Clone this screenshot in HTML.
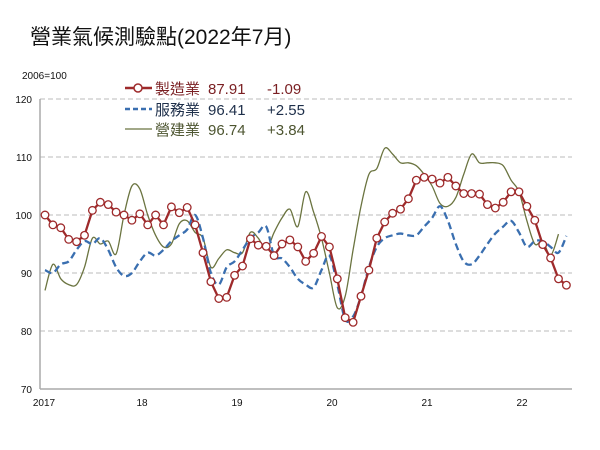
<!DOCTYPE html>
<html><head><meta charset="utf-8"><style>
html,body{margin:0;padding:0;background:#fff;width:600px;height:450px;overflow:hidden}
svg text{font-family:"Liberation Sans","Noto Sans CJK TC",sans-serif}
</style></head><body>
<svg id="s" width="600" height="450" xmlns="http://www.w3.org/2000/svg">
<text x="30" y="44" font-size="21" fill="#111" font-family="Liberation Sans, Noto Sans CJK TC, sans-serif">營業氣候測驗點(2022年7月)</text>
<text x="22" y="79" font-size="10" fill="#111">2006=100</text>
<g stroke="#bbb" stroke-dasharray="5,3" stroke-width="1">
<line x1="40" y1="99" x2="572" y2="99"/><line x1="40" y1="157" x2="572" y2="157"/>
<line x1="40" y1="215" x2="572" y2="215"/><line x1="40" y1="273" x2="572" y2="273"/>
<line x1="40" y1="331" x2="572" y2="331"/>
</g>
<line x1="40" y1="99" x2="40" y2="389" stroke="#aaa" stroke-width="1.5"/>
<line x1="40" y1="389" x2="572" y2="389" stroke="#aaa" stroke-width="1.5"/>
<g font-size="10" fill="#111" text-anchor="end">
<text x="32" y="103">120</text><text x="32" y="161">110</text><text x="32" y="219">100</text>
<text x="32" y="277">90</text><text x="32" y="335">80</text><text x="32" y="393">70</text>
</g>
<g font-size="10" fill="#111" text-anchor="middle">
<text x="44" y="406">2017</text><text x="142" y="406">18</text><text x="237" y="406">19</text>
<text x="332" y="406">20</text><text x="427" y="406">21</text><text x="522" y="406">22</text>
</g>
<g font-size="15">
<line x1="125" y1="88" x2="152" y2="88" stroke="#9e2a2b" stroke-width="2.5"/><circle cx="138" cy="88" r="4" fill="#fff" stroke="#9e2a2b" stroke-width="1.5"/>
<text x="155" y="94" fill="#7a1f22">製造業</text><text x="208" y="94" fill="#7a1f22">87.91</text><text x="267" y="94" fill="#7a1f22">-1.09</text>
<line x1="125" y1="109" x2="152" y2="109" stroke="#3a6fb0" stroke-width="2.5" stroke-dasharray="5,3"/>
<text x="155" y="115" fill="#1e2f4a">服務業</text><text x="208" y="115" fill="#1e2f4a">96.41</text><text x="267" y="115" fill="#1e2f4a">+2.55</text>
<line x1="125" y1="129" x2="152" y2="129" stroke="#6b7440" stroke-width="1.3"/>
<text x="155" y="135" fill="#4d5530">營建業</text><text x="208" y="135" fill="#4d5530">96.74</text><text x="267" y="135" fill="#4d5530">+3.84</text>
</g>
<g id="g"></g>
</svg>
<script>
var m=[100,98.3,97.8,95.8,95.4,96.5,100.8,102.2,101.8,100.5,100,99.1,100.2,98.3,100,98.3,101.4,100.4,101.3,98.3,93.5,88.5,85.6,85.8,89.6,91.2,95.9,94.8,94.6,93,95,95.7,94.5,92,93.4,96.3,94.5,89,82.3,81.5,86,90.5,96,98.8,100.3,101,102.8,106,106.5,106.2,105.5,106.5,105,103.7,103.7,103.6,101.8,101.2,102.2,104,104,101.5,99.1,94.9,92.6,89,87.9];
var sv=[90.5,90,91.5,92,94,95.5,95,96,94,91,89.5,90,92,93.5,93,94,95.5,96.5,97.5,100,96,90,88,91,92,94,96,97,98,93,92.5,91,89,88,87.5,90.5,93,88,82,82.5,86,91,94.5,96,96.5,96.8,96.5,96.5,98,99.5,101.5,99,95,92,91.5,93,95,96.8,98,99,97,94.5,95.5,95.5,94.5,93.5,96.4];
var c=[87,91.5,89,88,88,91,96,95,95.5,93.3,100,105,104.5,100,96.5,94.5,95,98.5,99,97,96,91,92.5,94,93.5,93.5,97,96,94,97,99.5,101,98,104,100.5,96,90,84,86,94,101.5,107,108,111.5,110.5,109,109,108.5,107,105,102,101.5,103,107,110.5,109,109,109,108.5,106,104,99,95,95.5,93,96.7];
function X(i){return 45+i*7.9}function Y(v){return 215-(v-100)*5.8}
function path(a,smooth){var p=a.map(function(v,i){return[X(i),Y(v)]});var d="M"+p[0];
for(var i=1;i<p.length;i++){if(!smooth){d+="L"+p[i];continue}var p0=p[i-2]||p[i-1],p1=p[i-1],p2=p[i],p3=p[i+1]||p2;
d+="C"+(p1[0]+(p2[0]-p0[0])/6)+","+(p1[1]+(p2[1]-p0[1])/6)+" "+(p2[0]-(p3[0]-p1[0])/6)+","+(p2[1]-(p3[1]-p1[1])/6)+" "+p2;}return d}
var g=document.getElementById("g"),h="";
h+='<path d="'+path(c,1)+'" fill="none" stroke="#6b7440" stroke-width="1.3"/>';
h+='<path d="'+path(sv,1)+'" fill="none" stroke="#3a6fb0" stroke-width="2.3" stroke-dasharray="7,4"/>';
h+='<path d="'+path(m,0)+'" fill="none" stroke="#9e2a2b" stroke-width="2.3" stroke-linejoin="round"/>';
m.forEach(function(v,i){h+='<circle cx="'+X(i)+'" cy="'+Y(v)+'" r="3.8" fill="#fff" stroke="#9e2a2b" stroke-width="1.3"/>'});
g.innerHTML=h;
</script>
</body></html>
